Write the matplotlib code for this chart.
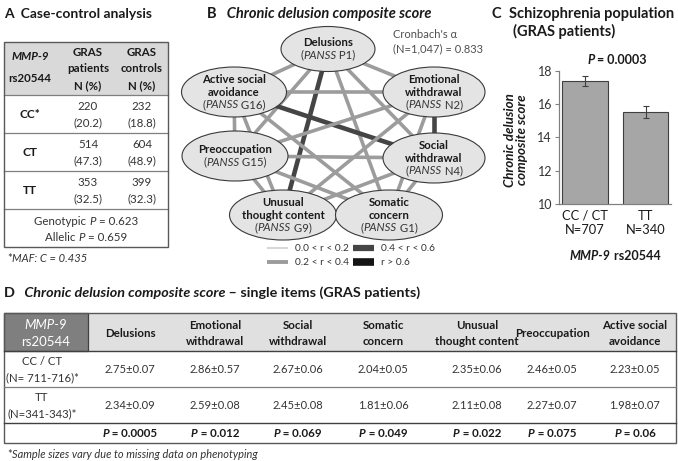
import matplotlib
matplotlib.use("Agg")
import matplotlib.pyplot as plt
from matplotlib.patches import Ellipse, Rectangle

plt.rcParams['font.family'] = ['Lato', 'DejaVu Sans']

# ---------------- data ----------------
# Panel A
geno_labels = ["CC*", "CT", "TT"]
patients_n = [220, 514, 353]
patients_pct = [20.2, 47.3, 32.5]
controls_n = [232, 604, 399]
controls_pct = [18.8, 48.9, 32.3]
genotypic_p = "0.623"
allelic_p = "0.659"
maf_text = "MAF: C = 0.435"

# Panel B
node_names = [["Delusions"], ["Active social", "avoidance"], ["Emotional", "withdrawal"],
              ["Preoccupation"], ["Social", "withdrawal"], ["Unusual", "thought content"],
              ["Somatic", "concern"]]
node_codes = ["P1", "G16", "N2", "G15", "N4", "G9", "G1"]
# edges: (node i, node j, approximate correlation r)
edges = [(0, 1, 0.3), (0, 2, 0.3), (0, 5, 0.5), (0, 6, 0.3), (0, 3, 0.3), (0, 4, 0.3),
         (1, 2, 0.3), (1, 4, 0.5), (1, 3, 0.3), (1, 5, 0.3), (1, 6, 0.3),
         (2, 4, 0.5), (2, 3, 0.3), (2, 5, 0.3), (2, 6, 0.3),
         (3, 4, 0.3), (3, 5, 0.3), (3, 6, 0.3),
         (4, 5, 0.3), (4, 6, 0.3), (5, 6, 0.3)]
cronbach = "(N=1,047) = 0.833"
legend_labels = ["0.0 < r < 0.2", "0.2 < r < 0.4", "0.4 < r < 0.6", "r > 0.6"]

# Panel C
c_groups = ["CC / CT\nN=707", "TT\nN=340"]
c_means = [17.4, 15.55]
c_err = [0.3, 0.35]
c_p = "0.0003"

# Panel D
d_items = [["Delusions"], ["Emotional", "withdrawal"], ["Social", "withdrawal"],
           ["Somatic", "concern"], ["Unusual", "thought content"], ["Preoccupation"],
           ["Active social", "avoidance"]]
d_row_labels = [["CC / CT", "(N= 711-716)*"], ["TT", "(N=341-343)*"]]
d_cc = ["2.75±0.07", "2.86±0.57", "2.67±0.06", "2.04±0.05", "2.35±0.06", "2.46±0.05", "2.23±0.05"]
d_tt = ["2.34±0.09", "2.59±0.08", "2.45±0.08", "1.81±0.06", "2.11±0.08", "2.27±0.07", "1.98±0.07"]
d_p = ["0.0005", "0.012", "0.069", "0.049", "0.022", "0.075", "0.06"]

# ---------------- figure ----------------
W, H = 678, 461
fig = plt.figure(figsize=(W / 100, H / 100), dpi=100)
ax = fig.add_axes([0, 0, 1, 1])
ax.set_xlim(0, W)
ax.set_ylim(H, 0)
ax.axis('off')
R = fig.canvas.get_renderer()

DARK = '#1a1a1a'
VAL = '#333333'


def rich(x, y, segs, size=8, ha='center', color=DARK, zorder=5):
    objs = []
    for s, w, st in segs:
        objs.append(ax.text(x, y, s, fontsize=size, fontweight=w, fontstyle=st,
                            ha='left', va='center', color=color, zorder=zorder))
    ws = [o.get_window_extent(R).width for o in objs]
    tot = sum(ws)
    start = x - tot / 2 if ha == 'center' else x
    for o, w in zip(objs, ws):
        o.set_x(start)
        start += w
    return objs


# ---------- Panel A ----------
rich(4, 14, [("A", 'bold', 'normal'), ("  Case-control analysis", 'bold', 'normal')],
     size=10, ha='left')
ax.add_patch(Rectangle((4, 42), 164, 53, facecolor='#d9d9d9', edgecolor='none', zorder=1))
ax.add_patch(Rectangle((4, 42), 164, 205, facecolor='none', edgecolor='#595959', lw=1, zorder=3))
for yy in [95, 133, 171, 209]:
    ax.plot([4, 168], [yy, yy], color='#7f7f7f', lw=0.9, zorder=2)
rich(30, 57, [("MMP-9", 'bold', 'italic')], size=8.3)
rich(30, 78, [("rs20544", 'bold', 'normal')], size=8.3)
for cx, word in [(88, "patients"), (142, "controls")]:
    rich(cx, 52, [("GRAS", 'bold', 'normal')], size=8.3)
    rich(cx, 69, [(word, 'bold', 'normal')], size=8.3)
    rich(cx, 86, [("N (%)", 'bold', 'normal')], size=8.3)
row_y = [114, 152, 190]
for i, lab in enumerate(geno_labels):
    yc = row_y[i]
    rich(30, yc, [(lab, 'bold', 'normal')], size=8.5)
    rich(88, yc - 8, [(str(patients_n[i]), 'normal', 'normal')], color=VAL, size=8.3)
    rich(88, yc + 9, [("(%.1f)" % patients_pct[i], 'normal', 'normal')], color=VAL, size=8.3)
    rich(142, yc - 8, [(str(controls_n[i]), 'normal', 'normal')], color=VAL, size=8.3)
    rich(142, yc + 9, [("(%.1f)" % controls_pct[i], 'normal', 'normal')], color=VAL, size=8.3)
rich(86, 221, [("Genotypic ", 'normal', 'normal'), ("P", 'normal', 'italic'),
               (" = " + genotypic_p, 'normal', 'normal')], color=VAL, size=8.3)
rich(86, 237, [("Allelic ", 'normal', 'normal'), ("P", 'normal', 'italic'),
               (" = " + allelic_p, 'normal', 'normal')], color=VAL, size=8.3)
rich(7, 258, [("*", 'normal', 'normal'), (maf_text, 'normal', 'italic')], ha='left',
     color=VAL, size=8)

# ---------- Panel B ----------
rich(207, 14, [("B", 'bold', 'normal'), ("   Chronic delusion composite score", 'bold', 'italic')],
     size=10.5, ha='left')
node_pos = [(328, 49), (234, 92), (434, 92), (235, 156), (434, 158), (283, 215), (389, 215)]
node_size = [(94, 45), (105, 50), (102, 50), (106, 50), (102, 50), (107, 50), (107, 50)]


def edge_style(r):
    if r < 0.2:
        return '#cfcfcf', 1.2
    if r < 0.4:
        return '#9c9c9c', 2.6
    if r < 0.6:
        return '#454545', 3.3
    return '#141414', 3.6


for i, j, r in edges:
    c, lw = edge_style(r)
    ax.plot([node_pos[i][0], node_pos[j][0]], [node_pos[i][1], node_pos[j][1]],
            color=c, lw=lw, solid_capstyle='butt', zorder=2)
for k, (pos, sz) in enumerate(zip(node_pos, node_size)):
    ax.add_patch(Ellipse(pos, sz[0], sz[1], facecolor='#e4e4e4', edgecolor='#3a3a3a',
                         lw=0.8, zorder=4))
    lines = node_names[k]
    n = len(lines) + 1
    sp = 12.5
    y0 = pos[1] - (n - 1) * sp / 2
    for li, t in enumerate(lines):
        rich(pos[0], y0 + li * sp, [(t, 'bold', 'normal')], size=8.2)
    rich(pos[0], y0 + len(lines) * sp, [("(", 'normal', 'normal'), ("PANSS", 'normal', 'italic'),
                                        (" " + node_codes[k] + ")", 'normal', 'normal')],
         color=VAL, size=8.2)
rich(393, 35, [("Cronbach's α", 'normal', 'normal')], ha='left', color='#505050', size=8)
rich(393, 49, [(cronbach, 'normal', 'normal')], ha='left', color='#505050', size=8)
leg_pos = [(267, 248), (267, 262), (353, 248), (353, 262)]
leg_r = [0.1, 0.3, 0.5, 0.7]
leg_lw = [1.2, 2.8, 4.5, 5.5]
for (lx, ly), r, lab, lw in zip(leg_pos, leg_r, legend_labels, leg_lw):
    c, _ = edge_style(r)
    ax.plot([lx, lx + 21], [ly, ly], color=c, lw=lw, solid_capstyle='butt')
    rich(lx + 28, ly, [(lab, 'normal', 'normal')], ha='left', size=7.3, color=VAL)

# ---------- Panel C ----------
rich(492, 14, [("C", 'bold', 'normal'), ("  Schizophrenia population", 'bold', 'normal')],
     size=10.5, ha='left')
rich(513, 31, [("(GRAS patients)", 'bold', 'normal')], size=10.5, ha='left')
bx = fig.add_axes([559 / W, 1 - 204 / H, 112 / W, 133 / H])
bx.bar(range(len(c_means)), c_means, width=0.75, bottom=0, color='#a6a6a6',
       edgecolor='#3f3f3f', lw=0.8, yerr=c_err, capsize=2.2,
       error_kw=dict(ecolor='#3f3f3f', elinewidth=0.8, capthick=0.8))
bx.set_ylim(10, 18)
bx.set_xlim(-0.43, 1.42)
bx.set_yticks([10, 12, 14, 16, 18])
bx.set_xticks(range(len(c_groups)))
bx.set_xticklabels(c_groups, fontsize=9.3, color=DARK, linespacing=1.25)
bx.tick_params(axis='x', length=0, pad=4)
bx.tick_params(axis='y', length=3, width=0.8, color='#808080', labelsize=9,
               labelcolor=VAL, pad=2)
for s in ['top', 'right']:
    bx.spines[s].set_visible(False)
for s in ['left', 'bottom']:
    bx.spines[s].set_color('#808080')
    bx.spines[s].set_linewidth(0.9)
bx.patch.set_alpha(0)
rich(617, 60, [("P", 'bold', 'italic'), (" = " + c_p, 'bold', 'normal')], size=9)
rich(615, 256, [("MMP-9", 'bold', 'italic'), (" rs20544", 'bold', 'normal')], size=9)
ax.text(516, 140, "Chronic delusion\ncomposite score", rotation=90, ha='center', va='center',
        fontsize=9.6, fontweight='bold', fontstyle='italic', color=DARK, linespacing=0.95)

# ---------- Panel D ----------
rich(4, 293, [("D", 'bold', 'normal'), ("   Chronic delusion composite score", 'bold', 'italic'),
              (" – single items (GRAS patients)", 'bold', 'normal')], size=10.4, ha='left')
TL, TR = 4, 676
ax.add_patch(Rectangle((88, 313), TR - 88, 38, facecolor='#e0e0e0', edgecolor='none', zorder=1))
ax.add_patch(Rectangle((TL, 313), 84, 38, facecolor='#7f7f7f', edgecolor='#404040', lw=0.9, zorder=2))
ax.add_patch(Rectangle((TL, 313), TR - TL, 130, facecolor='none', edgecolor='#595959', lw=1, zorder=3))
ax.plot([TL, TR], [351, 351], color='#404040', lw=1, zorder=3)
ax.plot([TL, TR], [387, 387], color='#7f7f7f', lw=0.9, zorder=3)
ax.plot([TL, TR], [423, 423], color='#404040', lw=1, zorder=3)
rich(46, 325, [("MMP-9", 'normal', 'italic')], size=9.5, color='white')
rich(46, 342, [("rs20544", 'normal', 'normal')], size=9.5, color='white')
col_x = [130, 215, 298, 383, 477, 552, 635]
for k, cx in enumerate(col_x):
    lines = d_items[k]
    if len(lines) == 1:
        rich(cx, 333, [(lines[0], 'bold', 'normal')], size=8.3)
    else:
        rich(cx, 325, [(lines[0], 'bold', 'normal')], size=8.3)
        rich(cx, 341, [(lines[1], 'bold', 'normal')], size=8.3)
    rich(cx, 369, [(d_cc[k], 'normal', 'normal')], color=VAL, size=8)
    rich(cx, 405, [(d_tt[k], 'normal', 'normal')], color=VAL, size=8)
    rich(cx, 433, [("P", 'bold', 'italic'), (" = " + d_p[k], 'bold', 'normal')], size=8.3)
for (a, b), yc in zip(d_row_labels, [369, 405]):
    rich(42, yc - 8, [(a, 'normal', 'normal')], color=VAL, size=8.2)
    rich(42, yc + 9, [(b, 'normal', 'normal')], color=VAL, size=8.2)
rich(7, 454, [("*", 'normal', 'normal'),
              ("Sample sizes vary due to missing data on phenotyping", 'normal', 'italic')],
     ha='left', color=VAL, size=7.9)

fig.savefig("out.png", dpi=100)
